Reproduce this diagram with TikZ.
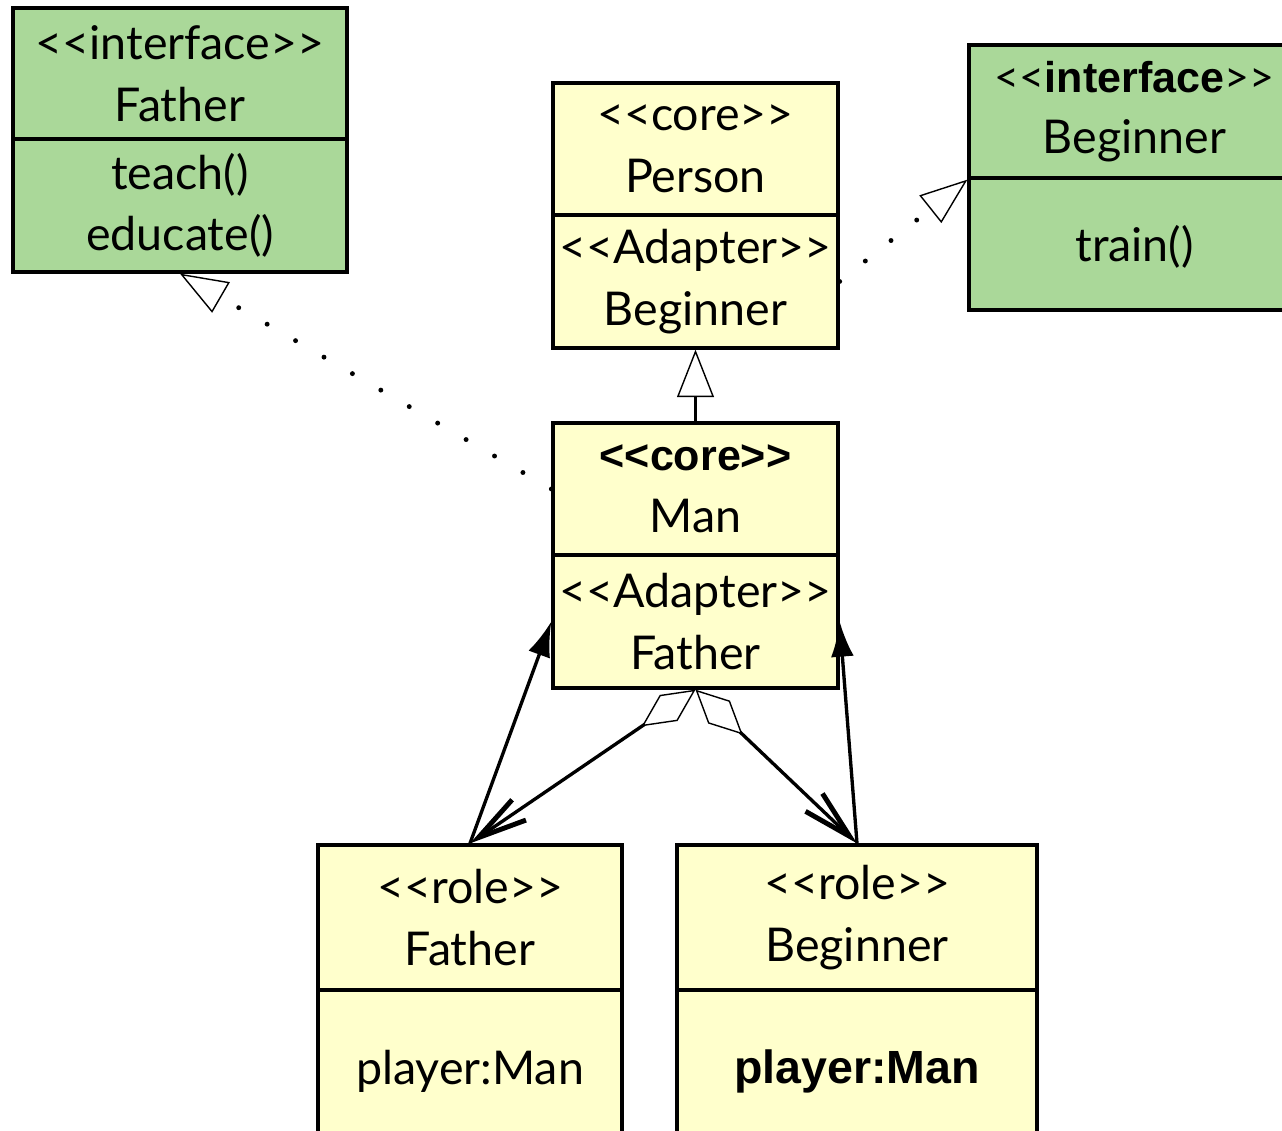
\documentclass[tikz,border=0pt]{standalone}
\usepackage{fontspec}
\newfontfamily\uifont{Lato}
\newfontfamily\uibold{Liberation Sans}
\usepackage{tikz}
\usetikzlibrary{arrows.meta,positioning,calc}
\definecolor{coreyellow}{RGB}{255,255,204}
\definecolor{ifgreen}{RGB}{170,216,153}
\newcommand{\bfx}[1]{{\uibold\bfseries #1}}

\begin{document}
\begin{tikzpicture}[x=0.02cm,y=-0.02cm,
  compart/.style={draw, line width=1.9pt, inner sep=0pt, align=center,
    font=\uifont\fontsize{26.5}{35}\selectfont,
    execute at begin node={\rule{0pt}{24pt}}},
  yel/.style={compart, fill=coreyellow},
  grn/.style={compart, fill=ifgreen},
  conn/.style={line width=1.9pt},
  realize/.style={line width=2.8pt, line cap=round, dash pattern=on 0pt off 18.7pt,
    -{Triangle[open, length=27pt, width=20pt, line width=0.8pt]}}]
\useasboundingbox (0,0) rectangle (1282,1131);

\node[grn, minimum width=6.68cm, minimum height=2.62cm] (ifTop) at (180,73.5) {<<interface>>\\Father};
\node[grn, minimum width=6.68cm, minimum height=2.66cm] (ifMeth) at (180,205.5) {teach()\\educate()};

\node[yel, minimum width=5.7cm, minimum height=2.64cm] (personCore) at (695.5,149) {<<core>>\\Person};
\node[yel, minimum width=5.7cm, minimum height=2.66cm] (personAdapt) at (695.5,281.5) {<<Adapter>>\\Beginner};

\node[grn, minimum width=6.62cm, minimum height=2.66cm] (ibTop) at (1134.5,111.5) {{\fontsize{24.5}{35}\selectfont<<\bfx{interface}>>\hspace{14pt}}\\Beginner};
\node[grn, minimum width=6.62cm, minimum height=2.64cm] (ibMeth) at (1134.5,244) {train()};

\node[yel, minimum width=5.7cm, minimum height=2.64cm] (manCore) at (695.5,489) {{\uibold\bfseries\fontsize{24.5}{35}\selectfont <<core>>}\\Man};
\node[yel, minimum width=5.7cm, minimum height=2.66cm] (manAdapt) at (695.5,621.5) {<<Adapter>>\\Father};

\node[yel, minimum width=6.08cm, minimum height=2.9cm] (rfTop) at (470,917.5) {<<role>>\\Father};
\node[yel, minimum width=6.08cm, minimum height=3.1cm] (rfAttr) at (470,1067.5) {player:Man};

\node[yel, minimum width=7.2cm, minimum height=2.9cm] (rbTop) at (857,917.5) {<<role>>\\Beginner};
\node[yel, minimum width=7.2cm, minimum height=3.1cm] (rbAttr) at (857,1067.5) {\bfx{player:Man}};

\draw[realize] (manCore.west) -- (ifMeth.south);
\draw[realize] (personAdapt.east) -- (ibTop.south west);
\draw[conn, -{Triangle[open, length=27pt, width=21pt, line width=0.8pt]}] (manCore.north) -- (personAdapt.south);

\draw[conn, -{Latex[length=20pt, width=13pt]}] (rfTop.north) -- (manAdapt.west);
\draw[conn, -{Latex[length=20pt, width=13pt]}] (rbTop.north) -- (manAdapt.east);
\draw[conn, {Diamond[open, length=37pt, width=18pt, line width=0.8pt]}-{Straight Barb[length=28pt, width=14pt, line width=2.8pt]}] (manAdapt.south) -- (rfTop.north);
\draw[conn, {Diamond[open, length=37pt, width=18pt, line width=0.8pt]}-{Straight Barb[length=28pt, width=14pt, line width=2.8pt]}] (manAdapt.south) -- (rbTop.north);
\end{tikzpicture}
\end{document}
